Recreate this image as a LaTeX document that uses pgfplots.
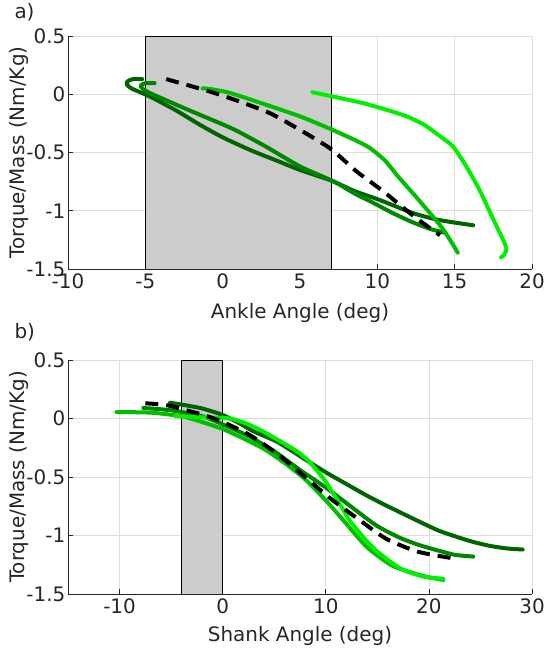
\documentclass[border=0pt]{standalone}
\usepackage{pgfplots}
\pgfplotsset{compat=1.18}
\usepackage{fontspec}
\setmainfont{DejaVu Sans}
\definecolor{gA}{RGB}{0,100,0}
\definecolor{gB}{RGB}{0,135,0}
\definecolor{gC}{RGB}{0,190,0}
\definecolor{gD}{RGB}{0,240,0}
\definecolor{axgray}{RGB}{38,38,38}
\definecolor{shade}{RGB}{204,204,204}

\pgfplotsset{
  panel/.style={
    scale only axis, width=464bp, anchor=south west,
    axis x line*=bottom, axis y line*=left,
    axis line style={axgray, line width=0.6bp, -},
    tick align=inside, major tick length=5bp,
    tick style={axgray, line width=0.6bp},
    grid=major, grid style={black!13, line width=0.6bp},
    ymin=-1.5, ymax=0.5, ytick={-1.5,-1,-0.5,0,0.5},
    yticklabels={-1.5,-1,-0.5,0,0.5},
    ticklabel style={font=\fontsize{20}{23}\selectfont, text=axgray},
    yticklabel style={inner sep=2.5bp},
    xticklabel style={inner sep=2bp, yshift=-3bp},
    every axis y label/.style={at={(axis description cs:-0.106,0.5)}, rotate=90, anchor=center,
      font=\fontsize{20}{23}\selectfont, text=axgray},
    ylabel={Torque/Mass (Nm/Kg)},
  },
  crv/.style={line width=4bp, line join=round, line cap=round, smooth, tension=0.4},
  dsh/.style={black, line width=4bp, line cap=butt, dash pattern=on 13bp off 8bp, smooth, tension=0.4},
  box/.style={fill=shade, draw=black, line width=0.8bp},
}

\begin{document}
\begin{tikzpicture}[x=1bp,y=1bp]
\useasboundingbox (0,0) rectangle (546,650);

% a) ankle angle
\begin{axis}[panel, at={(68bp,381bp)}, height=233bp,
  xmin=-10, xmax=20, xtick={-10,-5,0,5,10,15,20},
  xticklabels={-10,-5,0,5,10,15,20},
  every axis x label/.style={at={(axis description cs:0.5,-0.19)}, anchor=center,
    font=\fontsize{20}{23}\selectfont, text=axgray},
  xlabel={Ankle Angle (deg)}]
\addplot[box] coordinates {(-5,-1.5) (-5,0.5) (7,0.5) (7,-1.5)} -- cycle;
\addplot[crv, gA] coordinates {(-5.2,0.13) (-5.8,0.13) (-6.15,0.11) (-6.2,0.085) (-5.9,0.05)
  (-4.7,-0.02) (-3,-0.14) (-1.5,-0.26) (0,-0.37) (1.8,-0.48) (3.5,-0.57) (5,-0.65)
  (7,-0.74) (8.5,-0.83) (10.2,-0.91) (12.3,-1.02) (14,-1.08) (16.2,-1.125)};
\addplot[crv, gB] coordinates {(-4.4,0.095) (-5.0,0.095) (-5.3,0.075) (-5.15,0.045) (-4.7,0.01)
  (-3,-0.09) (-1.5,-0.175) (0.7,-0.3) (2.8,-0.45) (5,-0.62) (7.2,-0.75) (8.5,-0.85)
  (9.7,-0.93) (11,-1.02) (12.3,-1.1) (13.5,-1.16) (14.4,-1.19)};
\addplot[crv, gC] coordinates {(-1.3,0.05) (-0.8,0.045) (0.5,0.01) (2.8,-0.09) (5,-0.19)
  (7,-0.3) (8.5,-0.39) (9.5,-0.46) (10.5,-0.57) (11.3,-0.7) (12.3,-0.85) (13.4,-1.02)
  (14.2,-1.15) (14.7,-1.25) (15.2,-1.36)};
\addplot[crv, gD] coordinates {(5.8,0.017) (7.5,-0.03) (9.1,-0.077) (10.5,-0.13) (11.9,-0.19)
  (13,-0.26) (14.05,-0.36) (14.9,-0.45) (15.8,-0.63) (16.6,-0.82) (17.1,-0.96)
  (17.7,-1.13) (18.2,-1.27) (18.35,-1.33) (18.2,-1.38) (18.0,-1.4)};
\addplot[dsh] coordinates {(-3.65,0.13) (-0.8,0.022) (1.1,-0.063) (3.06,-0.163) (5,-0.306)
  (7,-0.47) (8.66,-0.663) (10.4,-0.835) (12.1,-1.02) (13.2,-1.13) (14.05,-1.21)};
\end{axis}

% b) shank angle
\begin{axis}[panel, at={(68bp,56bp)}, height=234bp,
  xmin=-15, xmax=30, xtick={-10,0,10,20,30},
  xticklabels={-10,0,10,20,30},
  every axis x label/.style={at={(axis description cs:0.5,-0.178)}, anchor=center,
    font=\fontsize{20}{23}\selectfont, text=axgray},
  xlabel={Shank Angle (deg)}]
\addplot[box] coordinates {(-4,-1.5) (-4,0.5) (0,0.5) (0,-1.5)} -- cycle;
\addplot[crv, gA] coordinates {(-5.1,0.135) (-2.2,0.09) (0,0.03) (1.6,-0.04) (3,-0.11)
  (5.3,-0.2) (8,-0.35) (10,-0.46) (12,-0.56) (14,-0.66) (16,-0.75) (18.8,-0.87)
  (21,-0.96) (23.7,-1.04) (25.7,-1.085) (27.5,-1.11) (29.1,-1.12)};
\addplot[crv, gB] coordinates {(-7.7,0.09) (-5,0.07) (-2,0.02) (0,-0.05) (2.5,-0.15)
  (5,-0.28) (7.5,-0.44) (10,-0.59) (13,-0.79) (15,-0.92) (17.2,-1.02) (19,-1.08)
  (20.75,-1.125) (22.5,-1.165) (24.3,-1.18)};
\addplot[crv, gC] coordinates {(-10.3,0.055) (-7,0.05) (-4,0.02) (-2,-0.03) (0,-0.09)
  (2,-0.17) (4,-0.26) (6,-0.38) (8,-0.52) (10,-0.7) (11.7,-0.87) (14,-1.1)
  (16.5,-1.26) (19.4,-1.345) (21.4,-1.38)};
\addplot[crv, gD] coordinates {(-4.6,0.02) (-2,0.01) (0.7,0) (2.5,-0.05) (3.9,-0.11)
  (5.5,-0.19) (7.2,-0.28) (8.3,-0.36) (9.1,-0.44) (10,-0.54) (10.7,-0.64) (11.7,-0.78)
  (12.3,-0.87) (13.5,-1.0) (14.9,-1.13) (17.2,-1.28) (19.4,-1.35) (21.4,-1.37)};
\addplot[dsh] coordinates {(-7.5,0.13) (-5.5,0.115) (-3.5,0.07) (-1.5,0.02) (0,-0.03)
  (2.6,-0.14) (5.4,-0.31) (8,-0.5) (10.4,-0.68) (13.3,-0.87) (15.9,-1.03) (19,-1.14)
  (22.7,-1.2)};
\end{axis}

\node[anchor=base west, font=\fontsize{20}{23}\selectfont, text=axgray] at (11,631) {a)};
\node[anchor=base west, font=\fontsize{20}{23}\selectfont, text=axgray] at (11,311) {b)};
\end{tikzpicture}
\end{document}
